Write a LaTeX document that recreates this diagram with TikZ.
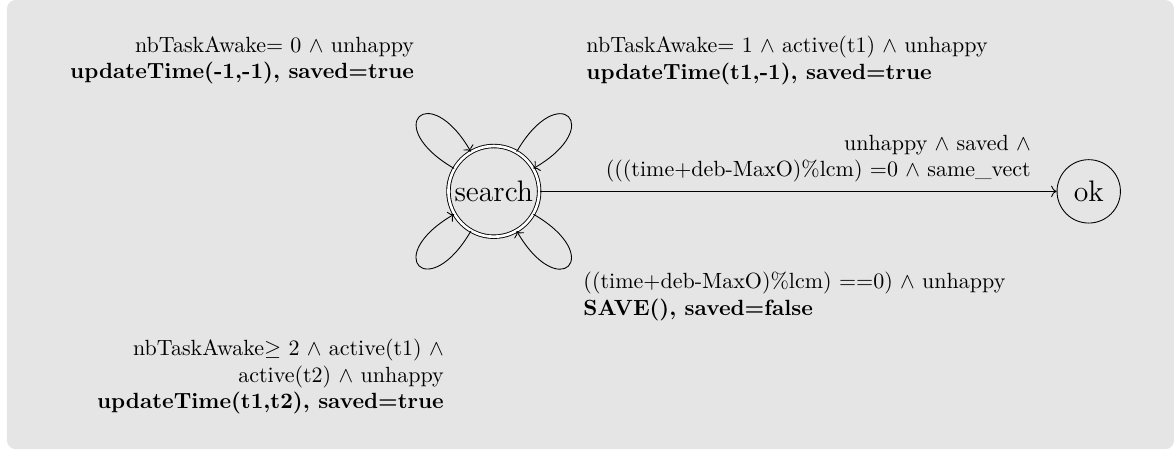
\documentclass[tikz,border=0pt]{standalone}
\usepackage{amssymb}
\usetikzlibrary{positioning, arrows.meta}

\begin{document}
\begin{tikzpicture}[
        x=0.4505pt, y=-0.4505pt,
        state/.style={circle, draw=black, inner sep=0pt, font=\fontsize{13.5}{16}\selectfont},
        accepting/.style={double, double distance=1.2pt},
        guard/.style={inner sep=0pt},
        arrow/.style={->},
        selfloop/.style={->, min distance=13.5mm}
    ]
        \fill[black!10, rounded corners=4pt] (7,0) rectangle (1184,453);
        \useasboundingbox (0,0) rectangle (1174,454);

        \node[state, accepting, minimum size=41.2pt] (search) at (498,193) {search};
        \node[state, minimum size=28.8pt] (ok) at (1098,193) {ok};

        % guards and updates of the loops
        \node[guard, anchor=east, align=right] (wake0) at (418,61)
            {nbTaskAwake$=$ 0 $\wedge$ unhappy\\
             \textbf{updateTime(-1,-1), saved=true}};
        \node[guard, anchor=west, align=left] (wake1) at (591,61)
            {nbTaskAwake$=$ 1 $\wedge$ active(t1) $\wedge$ unhappy\\
             \textbf{updateTime(t1,-1), saved=true}};
        \node[guard, anchor=west, align=left] (save) at (588,299)
            {((time+deb-MaxO)\%lcm) $==$0) $\wedge$ unhappy\\
             \textbf{SAVE(), saved=false}};
        \node[guard, anchor=east, align=right] (wake2) at (448,380)
            {nbTaskAwake$\geq$ 2 $\wedge$ active(t1) $\wedge$\\
             active(t2) $\wedge$ unhappy\\
             \textbf{updateTime(t1,t2), saved=true}};
        \node[guard, anchor=east, align=right] (goal) at (1040,160)
            {unhappy $\wedge$ saved $\wedge$\\
             (((time+deb-MaxO)\%lcm) $=$0 $\wedge$ same\_vect};

        \draw[selfloop] (search) to[out=150, in=120] (search);
        \draw[selfloop] (search) to[out=60, in=30] (search);
        \draw[selfloop] (search) to[out=240, in=210] (search);
        \draw[selfloop] (search) to[out=330, in=300] (search);
        \draw[arrow] (search) -- (ok);
    \end{tikzpicture}
\end{document}
